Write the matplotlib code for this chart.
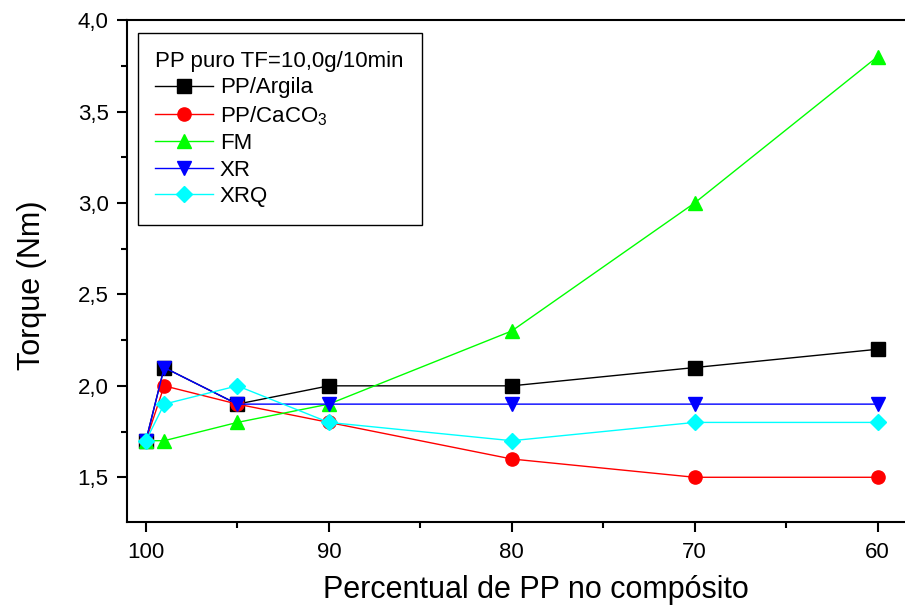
import matplotlib.pyplot as plt
from matplotlib.ticker import MultipleLocator, FuncFormatter

plt.rcParams["font.family"] = ["Liberation Sans", "DejaVu Sans"]
plt.rcParams["mathtext.fontset"] = "custom"
plt.rcParams["mathtext.rm"] = "Liberation Sans"
plt.rcParams["mathtext.it"] = "Liberation Sans"

# Data
pp_content = [100, 99, 95, 90, 80, 70, 60]
pp_argila = [1.7, 2.1, 1.9, 2.0, 2.0, 2.1, 2.2]
pp_caco3 = [1.7, 2.0, 1.9, 1.8, 1.6, 1.5, 1.5]
fm = [1.7, 1.7, 1.8, 1.9, 2.3, 3.0, 3.8]
xr = [1.7, 2.1, 1.9, 1.9, 1.9, 1.9, 1.9]
xrq = [1.7, 1.9, 2.0, 1.8, 1.7, 1.8, 1.8]

series = [
    ("PP/Argila", pp_argila, "black", "s"),
    ("PP/CaCO$_3$", pp_caco3, "red", "o"),
    ("FM", fm, "#00ff00", "^"),
    ("XR", xr, "blue", "v"),
    ("XRQ", xrq, "cyan", "D"),
]

fig = plt.figure(figsize=(9.05, 6.08), dpi=100)
ax = fig.add_axes([0.140, 0.141, 0.860, 0.826])

for label, values, color, marker in series:
    ax.plot(
        pp_content,
        values,
        color=color,
        marker=marker,
        markersize=9.5 if marker != "D" else 8,
        linewidth=1.0,
        label=label,
    )

ax.set_xlim(101.05, 58.5)
ax.set_ylim(1.254, 4.0)

ax.xaxis.set_major_locator(MultipleLocator(10))
ax.xaxis.set_minor_locator(MultipleLocator(5))
ax.yaxis.set_major_locator(MultipleLocator(0.5))
ax.yaxis.set_minor_locator(MultipleLocator(0.25))
ax.yaxis.set_major_formatter(FuncFormatter(lambda v, p: f"{v:.1f}".replace(".", ",")))

ax.tick_params(which="major", direction="out", length=7, width=1.5, labelsize=16)
ax.tick_params(which="minor", direction="out", length=4, width=1.5)
ax.tick_params(axis="x", pad=7)
ax.tick_params(axis="y", pad=6)

for side in ["left", "bottom", "top"]:
    ax.spines[side].set_linewidth(1.5)
ax.spines["right"].set_visible(False)

ax.set_xlabel("Percentual de PP no compósito", fontsize=22)
ax.set_ylabel("Torque (Nm)", fontsize=22)
ax.xaxis.set_label_coords(0.526, -0.105)
ax.yaxis.set_label_coords(-0.102, 0.472)

leg = ax.legend(
    loc="upper left",
    title="PP puro TF=10,0g/10min",
    fontsize=16,
    title_fontsize=16,
    fancybox=False,
    edgecolor="black",
    framealpha=1,
    handlelength=2.6,
    borderpad=0.8,
    labelspacing=0.25,
    handletextpad=0.3,
    borderaxespad=0,
    bbox_to_anchor=(0.014, 0.974),
)
leg._legend_box.align = "left"
leg.get_frame().set_linewidth(1.0)

plt.savefig("out.png", dpi=100)
